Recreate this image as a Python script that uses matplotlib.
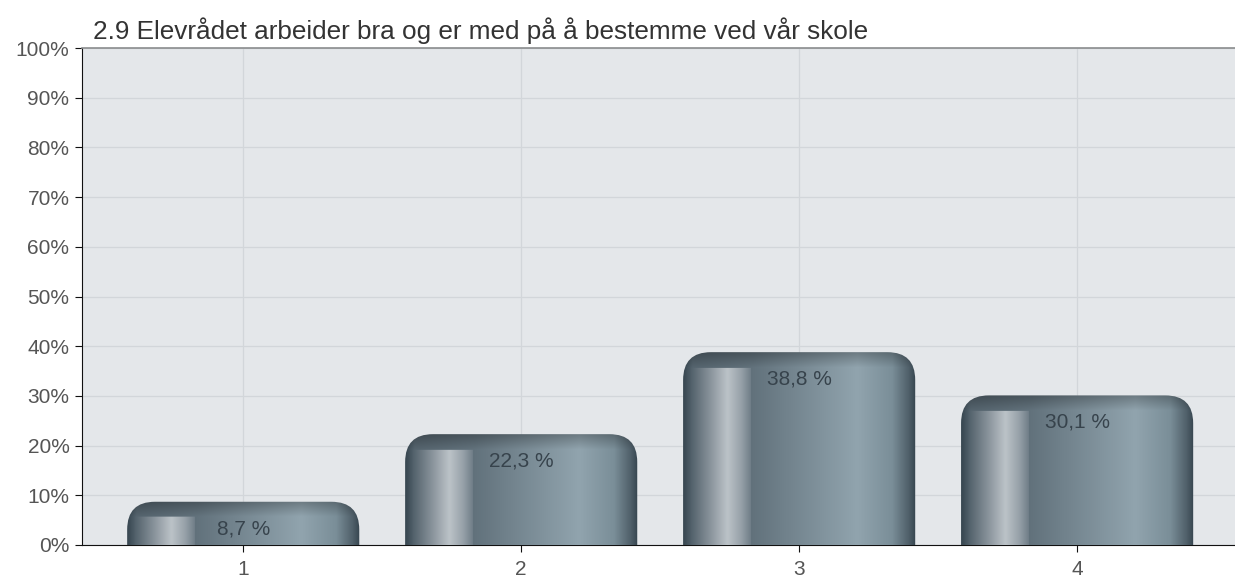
import numpy as np
import matplotlib
matplotlib.use("Agg")
import matplotlib.pyplot as plt
from matplotlib.patches import FancyBboxPatch

plt.rcParams['font.family'] = ['Liberation Sans', 'DejaVu Sans']

# data
categories = [1, 2, 3, 4]
values = [8.7, 22.3, 38.8, 30.1]
labels = ["8,7 %", "22,3 %", "38,8 %", "30,1 %"]
title = "2.9 Elevrådet arbeider bra og er med på å bestemme ved vår skole"

W, H = 1235, 581
fig = plt.figure(figsize=(W / 100, H / 100), dpi=100)
ax = fig.add_axes([82 / W, 1 - 545 / H, 1 - 82 / W, (545 - 48) / H])
ax.set_facecolor('#e4e7ea')
ax.set_xlim(0.42, 4.568)
ax.set_ylim(0, 100)
ax.set_yticks(range(0, 101, 10))
ax.set_yticklabels(['%d%%' % v for v in range(0, 101, 10)])
ax.set_xticks(categories)
ax.grid(True, color='#d2d6da', linewidth=0.9)
ax.set_axisbelow(True)
ax.spines['right'].set_visible(False)
ax.spines['top'].set_color('#8a8c8e')
ax.spines['top'].set_linewidth(1.2)
ax.spines['left'].set_color('#111111')
ax.spines['bottom'].set_color('#111111')
ax.tick_params(axis='both', colors='#111111', labelcolor='#555555',
               labelsize=15, length=5)
ax.tick_params(axis='y', pad=4)
ax.tick_params(axis='x', pad=6)

fig.text(93 / W, 1 - 39 / H, title, fontsize=18.8, color='#333333',
         ha='left', va='baseline')

# pixel scale helpers
px_per_y = (545 - 48) / 100.0
px_per_x = 278.0
bar_w = 0.835
rad = 0.1
aspect = px_per_x / px_per_y


def interp_colors(t, stops):
    pos = [s[0] for s in stops]
    out = np.zeros(t.shape + (3,))
    for c in range(3):
        out[..., c] = np.interp(t, pos, [s[1][c] for s in stops])
    return out


main_stops = [(0.0, (55, 70, 80)), (0.04, (85, 100, 110)),
              (0.3, (98, 114, 124)), (0.75, (145, 164, 174)),
              (0.9, (122, 142, 152)), (0.97, (80, 96, 106)),
              (1.0, (55, 70, 80))]
hi_stops = [(0.03, (80, 95, 105)), (0.12, (140, 150, 158)),
            (0.19, (188, 195, 200)), (0.25, (150, 160, 168)),
            (0.29, (112, 126, 136))]

for x, v, lab in zip(categories, values, labels):
    x0 = x - bar_w / 2
    patch = FancyBboxPatch((x0, -10), bar_w, v + 10,
                           boxstyle="round,pad=0,rounding_size=%f" % rad,
                           mutation_aspect=aspect, linewidth=0,
                           facecolor='none', zorder=3)
    ax.add_patch(patch)

    ncol, nrow = 240, max(int(v * px_per_y) + 2, 4)
    t = np.linspace(0, 1, ncol)
    depth = np.linspace(0, v * px_per_y, nrow)
    T, D = np.meshgrid(t, depth)
    img = interp_colors(T, main_stops)
    hl = interp_colors(T, hi_stops)
    in_hl = (T >= 0.03) & (T <= 0.29) & (D > 15)
    img[in_hl] = hl[in_hl]
    # dark top rim
    rim = np.clip(D / 15.0, 0, 1)
    fac = 0.75 + 0.25 * rim
    img = np.clip(img * fac[..., None], 0, 255) / 255.0
    im = ax.imshow(img, extent=(x0, x0 + bar_w, 0, v), aspect='auto',
                   origin='upper', zorder=3, interpolation='bilinear')
    im.set_clip_path(patch)

    ax.text(x, v - 27 / px_per_y, lab, ha='center', va='center',
            fontsize=15, color='#37434c', zorder=4)

ax.set_xlim(0.42, 4.568)
ax.set_ylim(0, 100)
fig.savefig('out.png', dpi=100)
